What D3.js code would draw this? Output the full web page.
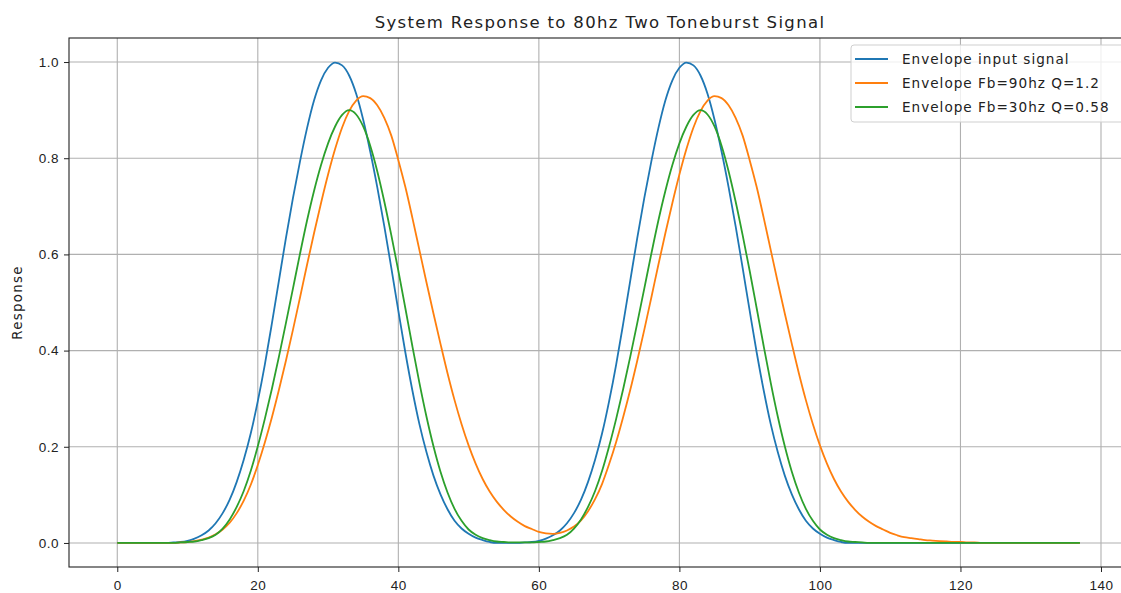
<!DOCTYPE html>
<html>
<head>
<meta charset="utf-8">
<script src="https://cdn.jsdelivr.net/npm/d3@7"></script>
<style>
  body { margin: 0; background: #fff; }
  svg { display: block; font-family: "DejaVu Sans", sans-serif; }
  .axis text { font-size: 13.5px; fill: #222; letter-spacing: 0.5px; }
  .axis path, .axis line { stroke: #222; }
  .grid line { stroke: #b0b0b0; stroke-width: 1.1; }
</style>
</head>
<body>
<svg id="chart"></svg>
<script>
// sample positions (x values of the traces, step 1)
const xs = d3.range(0, 138);

const inputSignal = [
  0, 0, 0, 0, 0, 0, 0, 0, 0.001, 0.002,
  0.0045, 0.009, 0.016, 0.026, 0.041, 0.062, 0.090, 0.127, 0.173, 0.228,
  0.295, 0.371, 0.456, 0.545, 0.634, 0.717, 0.793, 0.862, 0.920, 0.962,
  0.988, 0.999, 0.993, 0.972, 0.934, 0.880, 0.814, 0.740, 0.659, 0.572,
  0.483, 0.396, 0.317, 0.247, 0.189, 0.140, 0.101, 0.070, 0.046, 0.030,
  0.019, 0.011, 0.006, 0.002, 0, 0, 0, 0, 0.001, 0.002,
  0.0045, 0.009, 0.016, 0.026, 0.041, 0.062, 0.090, 0.127, 0.173, 0.228,
  0.295, 0.371, 0.456, 0.545, 0.634, 0.717, 0.793, 0.862, 0.920, 0.962,
  0.988, 0.999, 0.993, 0.972, 0.934, 0.880, 0.814, 0.740, 0.659, 0.572,
  0.483, 0.396, 0.317, 0.247, 0.189, 0.140, 0.101, 0.070, 0.046, 0.030,
  0.019, 0.011, 0.006, 0.002, 0, 0, 0, 0, 0, 0,
  0, 0, 0, 0, 0, 0, 0, 0, 0, 0,
  0, 0, 0, 0, 0, 0, 0, 0, 0, 0,
  0, 0, 0, 0, 0, 0, 0, 0
];

const fb90 = [
  0, 0, 0, 0, 0, 0, 0, 0, 0, 0.001,
  0.002, 0.004, 0.007, 0.011, 0.018, 0.028, 0.042, 0.062, 0.088, 0.121,
  0.162, 0.209, 0.261, 0.318, 0.379, 0.443, 0.510, 0.578, 0.644, 0.707,
  0.766, 0.819, 0.864, 0.898, 0.920, 0.929, 0.925, 0.910, 0.884, 0.847,
  0.796, 0.740, 0.676, 0.609, 0.542, 0.477, 0.414, 0.353, 0.297, 0.247,
  0.203, 0.165, 0.133, 0.107, 0.086, 0.069, 0.055, 0.044, 0.035, 0.029,
  0.023, 0.020, 0.019, 0.021, 0.026, 0.034, 0.047, 0.066, 0.091, 0.123,
  0.164, 0.210, 0.262, 0.318, 0.379, 0.443, 0.510, 0.578, 0.644, 0.707,
  0.766, 0.819, 0.864, 0.898, 0.920, 0.929, 0.925, 0.910, 0.884, 0.847,
  0.796, 0.740, 0.676, 0.609, 0.542, 0.477, 0.414, 0.353, 0.297, 0.247,
  0.203, 0.165, 0.133, 0.107, 0.086, 0.069, 0.055, 0.044, 0.035, 0.028,
  0.021, 0.016, 0.012, 0.010, 0.008, 0.006, 0.005, 0.004, 0.003, 0.002,
  0.002, 0.001, 0.001, 0, 0, 0, 0, 0, 0, 0,
  0, 0, 0, 0, 0, 0, 0, 0
];

const fb30 = [
  0, 0, 0, 0, 0, 0, 0, 0, 0, 0.001,
  0.002, 0.003, 0.006, 0.010, 0.017, 0.030, 0.049, 0.075, 0.108, 0.150,
  0.201, 0.258, 0.320, 0.387, 0.457, 0.529, 0.601, 0.670, 0.732, 0.786,
  0.831, 0.866, 0.890, 0.900, 0.891, 0.866, 0.826, 0.773, 0.710, 0.640,
  0.566, 0.488, 0.409, 0.333, 0.263, 0.201, 0.148, 0.105, 0.071, 0.046,
  0.028, 0.017, 0.010, 0.006, 0.003, 0.002, 0.001, 0.001, 0.001, 0.001,
  0.002, 0.003, 0.006, 0.010, 0.017, 0.030, 0.049, 0.075, 0.108, 0.150,
  0.201, 0.258, 0.320, 0.387, 0.457, 0.529, 0.601, 0.670, 0.732, 0.786,
  0.831, 0.866, 0.890, 0.900, 0.891, 0.866, 0.826, 0.773, 0.710, 0.640,
  0.566, 0.488, 0.409, 0.333, 0.263, 0.201, 0.148, 0.105, 0.071, 0.046,
  0.028, 0.017, 0.010, 0.006, 0.003, 0.002, 0.001, 0, 0, 0,
  0, 0, 0, 0, 0, 0, 0, 0, 0, 0,
  0, 0, 0, 0, 0, 0, 0, 0, 0, 0,
  0, 0, 0, 0, 0, 0, 0, 0
];

const seriesNames = ["Envelope input signal", "Envelope Fb=90hz Q=1.2", "Envelope Fb=30hz Q=0.58"];
const seriesColors = ["#1f77b4", "#ff7f0e", "#2ca02c"];
const xTicks = [0, 20, 40, 60, 80, 100, 120, 140];
const yTicks = [0.0, 0.2, 0.4, 0.6, 0.8, 1.0];

const width = 1121, height = 593;
const margin = {top: 38, right: -10, bottom: 26, left: 69};
const plotW = width - margin.left - margin.right;
const plotH = height - margin.top - margin.bottom;

const svg = d3.select("#chart").attr("width", width).attr("height", height);

let x = d3.scaleLinear().domain([-6.87, 144.27]).range([0, plotW]);
let y = d3.scaleLinear().domain([-0.05, 1.05]).range([plotH, 0]);

const chart = svg.append("g")
  .attr("transform", "translate(" + margin.left + "," + margin.top + ")");

/* grid */
chart.append("g").attr("class", "grid")
  .selectAll("line").data(xTicks).enter().append("line")
  .attr("x1", d => x(d)).attr("x2", d => x(d))
  .attr("y1", 0).attr("y2", plotH);
chart.append("g").attr("class", "grid")
  .selectAll("line").data(yTicks).enter().append("line")
  .attr("x1", 0).attr("x2", plotW)
  .attr("y1", d => y(d)).attr("y2", d => y(d));

/* lines */
const traces = [inputSignal, fb90, fb30];
const line = d3.line()
  .x((d, i) => x(xs[i]))
  .y(d => y(d))
  .curve(d3.curveMonotoneX);

traces.forEach(function(vals, k) {
  chart.append("path")
    .datum(vals)
    .attr("fill", "none")
    .attr("stroke", seriesColors[k])
    .attr("stroke-width", 1.8)
    .attr("d", line);
});

/* axes */
let xAxis = d3.axisBottom(x).tickValues(xTicks).tickFormat(d3.format("d")).tickSize(5).tickPadding(8.5);
let yAxis = d3.axisLeft(y).tickValues(yTicks).tickFormat(d3.format(".1f")).tickSize(5).tickPadding(5);

chart.append("g").attr("class", "axis")
  .attr("transform", "translate(0," + plotH + ")")
  .call(xAxis)
  .call(g => g.select(".domain").remove());
chart.append("g").attr("class", "axis")
  .call(yAxis)
  .call(g => g.select(".domain").remove());

// spines
chart.append("rect")
  .attr("x", 0).attr("y", 0)
  .attr("width", plotW).attr("height", plotH)
  .attr("fill", "none")
  .attr("stroke", "#222")
  .attr("stroke-width", 1.1);

/* labels */
svg.append("text").text("System Response to 80hz Two Toneburst Signal")
  .attr("x", margin.left + plotW / 2)
  .attr("y", 28)
  .attr("text-anchor", "middle")
  .style("font-size", "16.5px")
  .style("letter-spacing", "1.35px")
  .attr("fill", "#222");

svg.append("text").text("Response")
  .attr("transform", "translate(22," + (margin.top + plotH / 2) + ") rotate(-90)")
  .attr("text-anchor", "middle")
  .style("font-size", "13.3px")
  .style("letter-spacing", "1.3px")
  .attr("fill", "#222");

/* legend */
const legend = svg.append("g").attr("transform", "translate(851,45)");
legend.append("rect")
  .attr("width", 300).attr("height", 77)
  .attr("rx", 3)
  .attr("fill", "#fff").attr("fill-opacity", 0.8)
  .attr("stroke", "#cfcfcf");

seriesNames.forEach(function(name, k) {
  let row = legend.append("g").attr("transform", "translate(0," + (14 + k * 24) + ")");
  row.append("line")
    .attr("x1", 4).attr("x2", 37)
    .attr("stroke", seriesColors[k])
    .attr("stroke-width", 1.8);
  row.append("text").text(name)
    .attr("x", 51).attr("dy", "0.35em")
    .style("font-size", "13.6px")
    .style("letter-spacing", "1px")
    .attr("fill", "#222");
});
</script>
</body>
</html>
